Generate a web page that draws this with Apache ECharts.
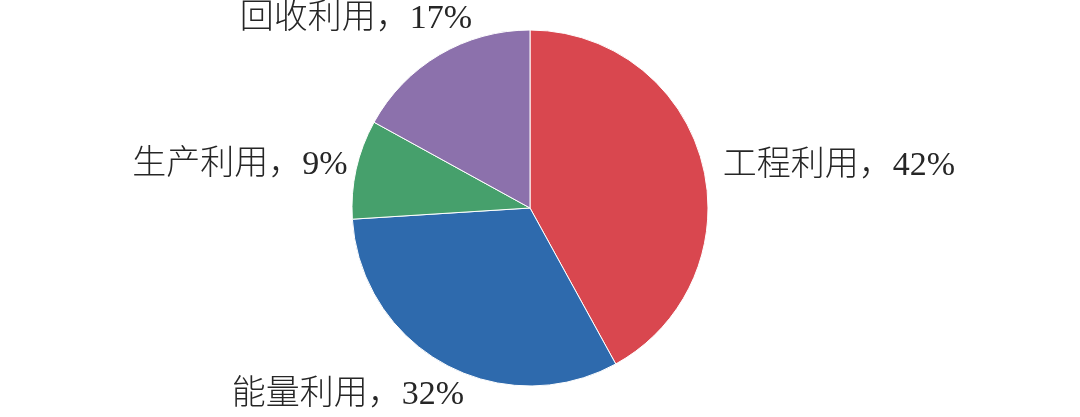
<!DOCTYPE html>
<html>
<head>
<meta charset="utf-8">
<script src="https://cdn.jsdelivr.net/npm/echarts@6/dist/echarts.min.js"></script>
<style>
html,body{margin:0;padding:0;background:#fff;}
#c{width:1080px;height:417px;}
</style>
</head>
<body>
<div id="c"></div>
<script>
const categories = ['工程利用', '能量利用', '生产利用', '回收利用'];
const values = [42, 32, 9, 17];
const colors = ['#D9474F', '#2E6AAD', '#46A06C', '#8C71AC'];
// label anchor positions (centre of each label, px)
const labelPos = [[839, 166], [348, 395], [240, 165], [356, 19]];

const chart = echarts.init(document.getElementById('c'));
chart.setOption({
  backgroundColor: '#fff',
  animation: false,
  series: [{
    type: 'pie',
    center: [530, 208],
    radius: 178,
    startAngle: 90,
    clockwise: true,
    avoidLabelOverlap: false,
    itemStyle: { borderColor: '#fff', borderWidth: 1 },
    label: {
      show: true,
      position: 'outside',
      formatter: p => p.name + '，' + p.value + '%',
      fontFamily: "'Liberation Serif', 'Noto Sans CJK SC', serif",
      fontSize: 34,
      fontWeight: 300,
      color: '#262626'
    },
    labelLine: { show: false },
    labelLayout: function (params) {
      const pos = labelPos[params.dataIndex];
      return { x: pos[0], y: pos[1], align: 'center', verticalAlign: 'middle' };
    },
    data: categories.map((n, i) => ({ name: n, value: values[i], itemStyle: { color: colors[i] } }))
  }]
});
</script>
</body>
</html>
